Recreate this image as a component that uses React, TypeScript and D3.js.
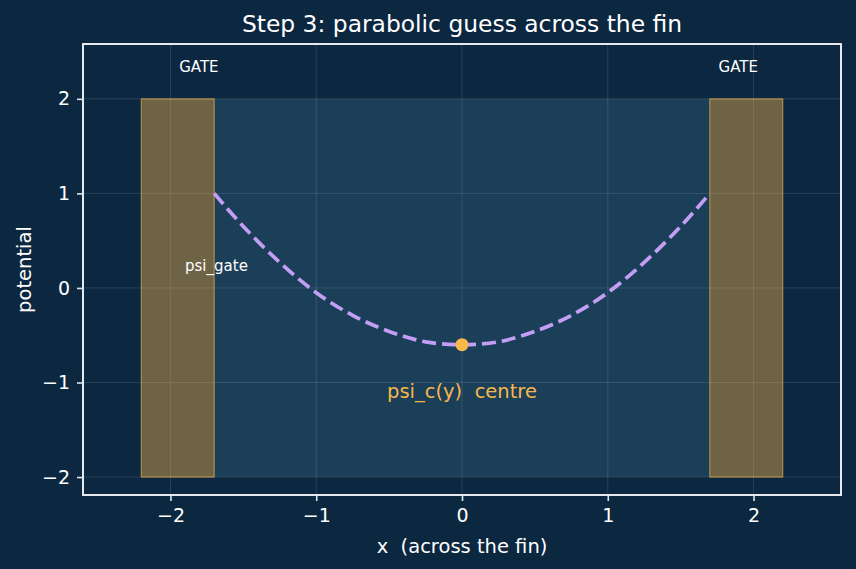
import { useEffect, useRef } from 'react'
import * as d3 from 'd3'

// gates and fin (data units)
const gates = [
	{ x0: -2.2, x1: -1.7, y0: -2, y1: 2 },
	{ x0: 1.7, x1: 2.2, y0: -2, y1: 2 },
]
const fin = { x0: -1.7, x1: 1.7, y0: -2, y1: 2 }

// parabolic guess
const curveX = [-1.7, -1.5, -1.25, -1.0, -0.75, -0.5, -0.25, 0, 0.25, 0.5, 0.75, 1.0, 1.25, 1.5, 1.7]
const curveY = [1.0, 0.65, 0.27, -0.05, -0.29, -0.46, -0.57, -0.6, -0.57, -0.46, -0.29, -0.05, 0.27, 0.65, 1.0]

const centre = { x: 0, y: -0.6 }

const xTicks = [-2, -1, 0, 1, 2]
const yTicks = [-2, -1, 0, 1, 2]

const gateLabels = [
	{ x: -1.805, y: 2.34, text: 'GATE' },
	{ x: 1.895, y: 2.34, text: 'GATE' },
]

const Chart = () => {
	const svgRef = useRef(null)

	useEffect(() => {
		document.body.style.margin = '0'
		const width = 856
		const height = 569
		const margin = { top: 44, right: 15, bottom: 74, left: 83 }

		const svg = d3.select(svgRef.current)
		svg.selectAll('*').remove()
		svg.attr('width', width).attr('height', height)

		const font = 'DejaVu Sans, sans-serif'
		svg.append('rect').attr('width', width).attr('height', height).attr('fill', '#0c2740')

		const x = d3.scaleLinear().domain([-2.6, 2.6]).range([margin.left, width - margin.right])
		const y = d3.scaleLinear().domain([-2.19, 2.58]).range([height - margin.bottom, margin.top])

		const plot = svg.append('g')

		// fin region
		plot
			.append('rect')
			.attr('x', x(fin.x0))
			.attr('y', y(fin.y1))
			.attr('width', x(fin.x1) - x(fin.x0))
			.attr('height', y(fin.y0) - y(fin.y1))
			.attr('fill', '#1b3e59')

		// grid
		plot
			.selectAll('line.gx')
			.data(xTicks)
			.join('line')
			.attr('x1', (d) => x(d))
			.attr('x2', (d) => x(d))
			.attr('y1', margin.top)
			.attr('y2', height - margin.bottom)
			.attr('stroke', '#ffffff')
			.attr('stroke-opacity', 0.12)
			.attr('stroke-width', 1)
		plot
			.selectAll('line.gy')
			.data(yTicks)
			.join('line')
			.attr('x1', margin.left)
			.attr('x2', width - margin.right)
			.attr('y1', (d) => y(d))
			.attr('y2', (d) => y(d))
			.attr('stroke', '#ffffff')
			.attr('stroke-opacity', 0.12)
			.attr('stroke-width', 1)

		// gates
		plot
			.selectAll('rect.gate')
			.data(gates)
			.join('rect')
			.attr('x', (d) => x(d.x0))
			.attr('y', (d) => y(d.y1))
			.attr('width', (d) => x(d.x1) - x(d.x0))
			.attr('height', (d) => y(d.y0) - y(d.y1))
			.attr('fill', '#e8ac4b')
			.attr('fill-opacity', 0.45)
			.attr('stroke', '#e8ac4b')
			.attr('stroke-opacity', 0.6)
			.attr('stroke-width', 1.3)

		// curve
		const pts = curveX.map((v, i) => [v, curveY[i]])
		const line = d3
			.line()
			.x((d) => x(d[0]))
			.y((d) => y(d[1]))
			.curve(d3.curveCatmullRom)
		plot
			.append('path')
			.attr('d', line(pts))
			.attr('fill', 'none')
			.attr('stroke', '#c39ef5')
			.attr('stroke-width', 3.7)
			.attr('stroke-dasharray', '14,6')

		plot
			.append('circle')
			.attr('cx', x(centre.x))
			.attr('cy', y(centre.y))
			.attr('r', 6.5)
			.attr('fill', '#f7b84b')

		// annotations
		plot
			.selectAll('text.gate')
			.data(gateLabels)
			.join('text')
			.attr('x', (d) => x(d.x))
			.attr('y', (d) => y(d.y))
			.attr('text-anchor', 'middle')
			.attr('dy', '0.35em')
			.attr('font-family', font)
			.attr('font-size', 15)
			.attr('fill', '#ffffff')
			.text((d) => d.text)

		plot
			.append('text')
			.attr('x', x(-1.9))
			.attr('y', y(0.23))
			.attr('dy', '0.35em')
			.attr('font-family', font)
			.attr('font-size', 15)
			.attr('fill', '#ffffff')
			.text('psi_gate')

		plot
			.append('text')
			.attr('x', x(0))
			.attr('y', y(-1.09))
			.attr('dy', '0.35em')
			.attr('text-anchor', 'middle')
			.attr('font-family', font)
			.attr('font-size', 19.5)
			.attr('fill', '#f7b84b')
			.style('white-space', 'pre')
			.text('psi_c(y)  centre')

		// frame
		svg
			.append('rect')
			.attr('x', margin.left)
			.attr('y', margin.top)
			.attr('width', width - margin.left - margin.right)
			.attr('height', height - margin.top - margin.bottom)
			.attr('fill', 'none')
			.attr('stroke', '#ffffff')
			.attr('stroke-width', 1.8)

		// axes
		const fmt = (d) => (d < 0 ? '\u2212' + Math.abs(d) : String(d))
		const xAxis = svg
			.append('g')
			.attr('transform', `translate(0,${height - margin.bottom})`)
			.call(d3.axisBottom(x).tickValues(xTicks).tickFormat(fmt).tickSize(6).tickPadding(8))
		const yAxis = svg
			.append('g')
			.attr('transform', `translate(${margin.left},0)`)
			.call(d3.axisLeft(y).tickValues(yTicks).tickFormat(fmt).tickSize(6).tickPadding(7))
		for (const a of [xAxis, yAxis]) {
			a.select('.domain').remove()
			a.selectAll('line').attr('stroke', '#dde6ee').attr('stroke-width', 1.6)
			a.selectAll('text').attr('fill', '#ffffff').attr('font-size', 19).attr('font-family', font)
		}

		svg
			.append('text')
			.attr('x', (margin.left + width - margin.right) / 2)
			.attr('y', 553)
			.attr('text-anchor', 'middle')
			.attr('font-family', font)
			.attr('font-size', 19.5)
			.attr('fill', '#ffffff')
			.style('white-space', 'pre')
			.text('x  (across the fin)')

		svg
			.append('text')
			.attr('transform', 'rotate(-90)')
			.attr('x', -(margin.top + height - margin.bottom) / 2)
			.attr('y', 31)
			.attr('text-anchor', 'middle')
			.attr('font-family', font)
			.attr('font-size', 19.5)
			.attr('fill', '#ffffff')
			.text('potential')

		svg
			.append('text')
			.attr('x', (margin.left + width - margin.right) / 2)
			.attr('y', 32)
			.attr('text-anchor', 'middle')
			.attr('font-family', font)
			.attr('font-size', 23.4)
			.attr('fill', '#ffffff')
			.text('Step 3: parabolic guess across the fin')
	}, [])

	return <svg ref={svgRef} style={{ display: 'block' }}></svg>
}

export default function App() {
	return <Chart />
}
